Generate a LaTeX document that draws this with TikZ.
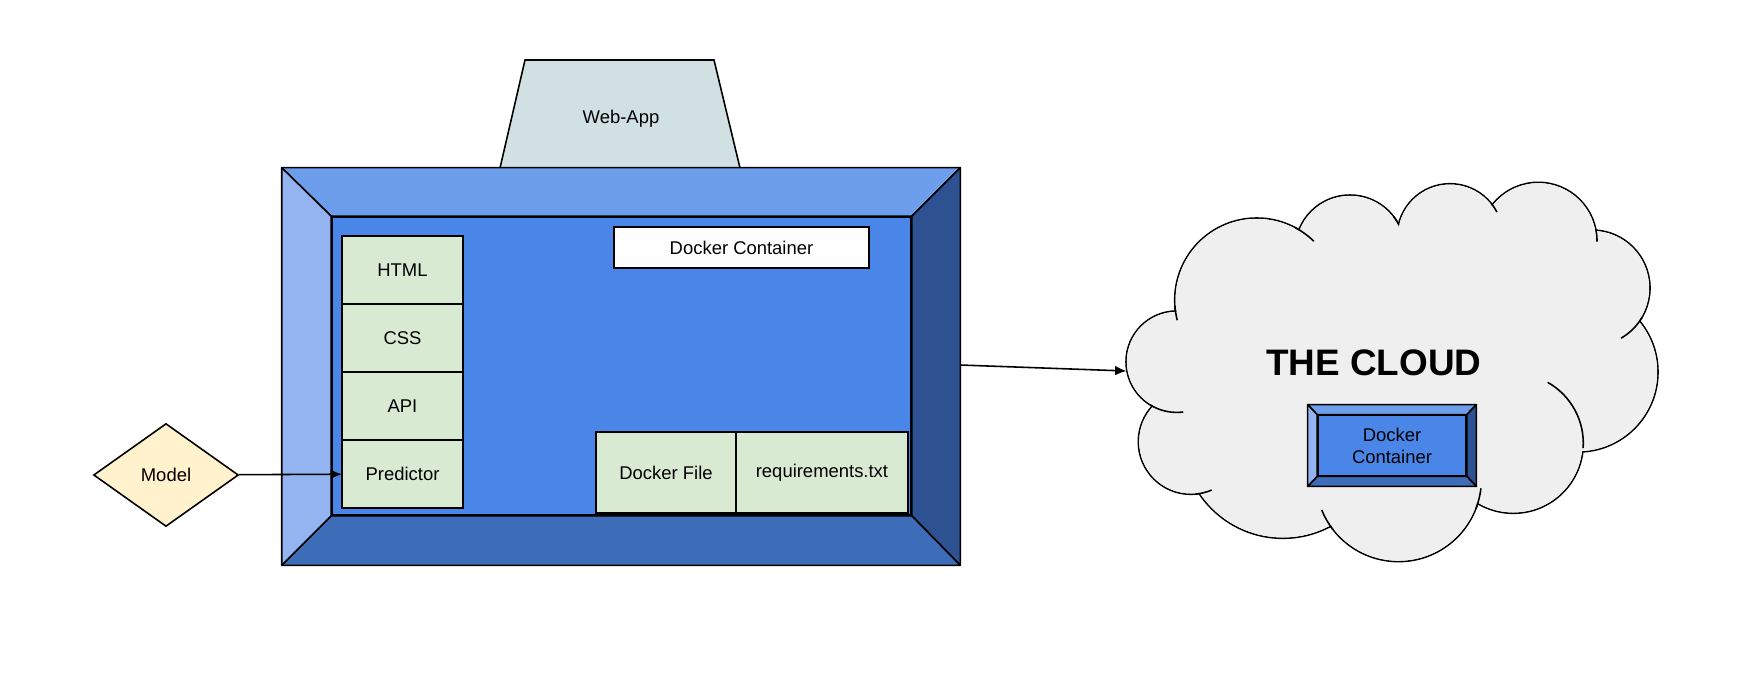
\documentclass[tikz,border=0pt]{standalone}
\usepackage{fontspec}
\setmainfont{Liberation Sans}
\usepackage{tikz}
\usepackage{xcolor}
\usetikzlibrary{shapes.geometric, arrows.meta, positioning, calc}
\definecolor{innercolor}{HTML}{4A86E8}
\definecolor{topcolor}{HTML}{6D9EEB}
\definecolor{leftcolor}{HTML}{93B4F1}
\definecolor{rightcolor}{HTML}{2D5191}
\definecolor{bottomcolor}{HTML}{3D6CB9}
\definecolor{filecolor}{HTML}{D9EAD3}
\definecolor{appcolor}{HTML}{D0E0E3}
\definecolor{modelcolor}{HTML}{FFF2CC}
\definecolor{cloudcolor}{HTML}{EFEFEF}
\tikzstyle{filebox} = [rectangle, draw, line width=0.9pt, fill=filecolor, inner sep=0pt, outer sep=0pt, font=\fontsize{10.5}{12}\selectfont]
\tikzstyle{stackbox} = [filebox, minimum width=2.42cm, minimum height=1.36cm]
\tikzstyle{bevel} = [draw, line width=0.9pt, line join=round]
\tikzstyle{outline} = [line width=0.9pt]
\tikzstyle{arrow} = [-{Latex[length=6.5pt, width=5.5pt]}, line width=0.9pt]
% bevelled frame between an outer and an inner node
\newcommand{\bevels}[2]{%
    \draw[bevel, fill=topcolor] (#1.north west) -- (#1.north east) -- (#2.north east) -- (#2.north west) -- cycle;
    \draw[bevel, fill=rightcolor] (#1.north east) -- (#1.south east) -- (#2.south east) -- (#2.north east) -- cycle;
    \draw[bevel, fill=bottomcolor] (#1.south east) -- (#1.south west) -- (#2.south west) -- (#2.south east) -- cycle;
    \draw[bevel, fill=leftcolor] (#1.south west) -- (#1.north west) -- (#2.north west) -- (#2.south west) -- cycle;
}

\begin{document}
\begin{tikzpicture}[x=0.02cm, y=-0.02cm]
    \useasboundingbox (0,0) rectangle (1738,697);

    % Web-App on top of the container
    \draw[outline, fill=appcolor] (500,168) -- (525,60) -- (714,60) -- (740,168) -- cycle;
    \node[font=\fontsize{10.5}{12}\selectfont] (webapp) at (621, 119) {Web-App};

    % Docker container
    \node[rectangle, minimum width=13.56cm, minimum height=7.94cm, inner sep=0pt] (dockout) at (621, 366.5) {};
    \node[rectangle, draw, line width=0.9pt, fill=innercolor, minimum width=11.58cm, minimum height=5.96cm, inner sep=0pt] (dockin) at (621.5, 366) {};
    \bevels{dockout}{dockin}
    \coordinate (dockright) at (960, 365);

    \node[rectangle, draw, line width=0.9pt, fill=white, minimum width=5.1cm, minimum height=0.82cm,
          font=\fontsize{10.5}{12}\selectfont] (doclabel) at (741.5, 247.5) {Docker Container};

    \node[stackbox] (html) at (402.5, 270) {HTML};
    \node[stackbox, below=0pt of html] (css) {CSS};
    \node[stackbox, below=0pt of css] (api) {API};
    \node[stackbox, below=0pt of api] (predictor) {Predictor};

    \node[filebox, minimum width=2.8cm, minimum height=1.62cm] (dockerfile) at (666, 472.5) {Docker File};
    \node[filebox, minimum width=3.44cm, minimum height=1.62cm, right=0pt of dockerfile] (reqs) {requirements.txt};

    % Model
    \node[diamond, draw, line width=0.9pt, fill=modelcolor, minimum width=2.9cm, minimum height=2.06cm, inner sep=0pt,
          font=\fontsize{10.5}{12}\selectfont] (model) at (166, 475) {Model};

    % The cloud: puffs, then the inside filled over their inner parts, then the short inner arcs
    \foreach \cx/\cy/\r in {1176.7/361.7/50.7, 1256.7/300/82, 1350/250/55, 1450/236.7/53, 1538.3/241/58.7, 1592/288/58,
                            1578/372/80, 1513.3/443.3/70, 1398.5/478.6/83, 1282.9/437.4/100.9, 1190.9/441.7/52.6}
        \draw[outline] (\cx,\cy) circle[radius=\r];
    \fill[cloudcolor] (1176.7,361.7) -- (1256.7,300) -- (1350,250) -- (1450,236.7) -- (1538.3,241) -- (1592,288)
        -- (1578,372) -- (1513.3,443.3) -- (1398.5,478.6) -- (1282.9,437.4) -- (1190.9,441.7) -- cycle;
    \foreach \cx/\cy/\r in {1176.7/361.7/50.7, 1256.7/300/82, 1350/250/55, 1450/236.7/53, 1538.3/241/58.7, 1592/288/58,
                            1578/372/80, 1513.3/443.3/70, 1398.5/478.6/83, 1282.9/437.4/100.9, 1190.9/441.7/52.6}
        \fill[cloudcolor] (\cx,\cy) circle[radius=\r-0.85];
    \foreach \cx/\cy/\r/\a/\b in {1176.7/361.7/50.7/122/82.6, 1256.7/300/82/176/165.7, 1256.7/300/82/-62/-45.8,
                                  1350/250/55/-38/-27.4, 1450/236.7/53/-39/-27.7, 1538.3/241/58.7/-11/0.7,
                                  1592/288/58/30/59.9, 1513.3/443.3/70/4/-60.6, 1398.5/478.6/83/21/6.7,
                                  1398.5/478.6/83/142/157.8, 1190.9/441.7/52.6/85/66.7}
        \draw[outline] (\cx,\cy) ++(\a:\r) arc[start angle=\a, end angle=\b, radius=\r];
    \coordinate (cloudwest) at (1126.5, 371);
    \node[font=\fontsize{21}{25}\selectfont\bfseries] (cloudtitle) at (1373.7, 362.5) {THE CLOUD};

    \node[rectangle, minimum width=3.36cm, minimum height=1.62cm, inner sep=0pt] (smallout) at (1392, 445.5) {};
    \node[rectangle, draw, line width=0.9pt, fill=innercolor, minimum width=2.96cm, minimum height=1.2cm, inner sep=0pt,
          align=center, font=\fontsize{10.5}{12.5}\selectfont] (smallin) at (1392, 445.5) {Docker\\Container};
    \bevels{smallout}{smallin}

    \draw[arrow] (model) -- (predictor);
    \draw[arrow] (dockright) -- (cloudwest);

\end{tikzpicture}
\end{document}
